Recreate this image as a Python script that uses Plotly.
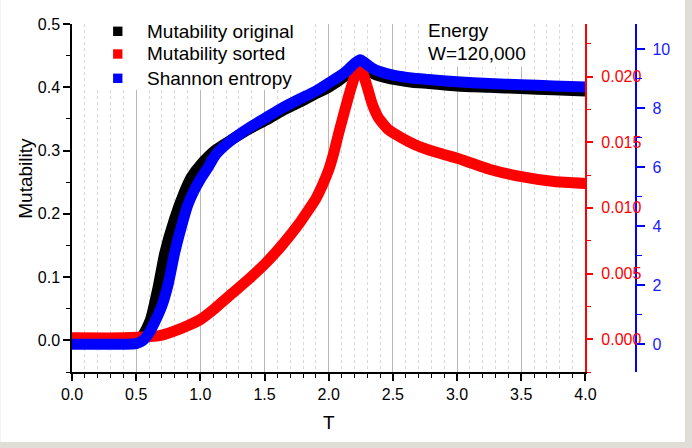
import plotly.graph_objects as go

# ---------------- data ----------------
T_orig = [0.0, 0.3, 0.5, 0.55, 0.61, 0.672, 0.723, 0.796, 0.873, 0.93, 1.0, 1.12,
          1.25, 1.38, 1.51, 1.64, 1.77, 1.9, 2.0, 2.13, 2.2, 2.245, 2.28, 2.336,
          2.41, 2.52, 2.65, 2.78, 3.0, 3.25, 3.5, 3.75, 4.0]
M_orig = [0.0, 0.0, 0.001, 0.008, 0.032, 0.085, 0.138, 0.19, 0.233, 0.258, 0.277, 0.301,
          0.318, 0.334, 0.348, 0.363, 0.376, 0.390, 0.400, 0.418, 0.432, 0.438, 0.433, 0.423,
          0.417, 0.412, 0.408, 0.406, 0.402, 0.400, 0.398, 0.396, 0.394]

T_sorted = [0.0, 0.4, 0.6, 0.7, 0.827, 0.9, 1.0, 1.12, 1.25, 1.38, 1.51, 1.64, 1.77,
            1.9, 1.95, 2.0, 2.04, 2.078, 2.155, 2.21, 2.245, 2.297, 2.336, 2.388, 2.465,
            2.57, 2.672, 2.775, 2.905, 3.008, 3.266, 3.49, 3.757, 4.0]
M_sorted = [0.0001, 0.0001, 0.00018, 0.0003, 0.00072, 0.00102, 0.0015, 0.0024, 0.0035,
            0.0046, 0.0058, 0.0072, 0.0088, 0.0107, 0.0117, 0.0129, 0.0142, 0.0157, 0.0185,
            0.0202, 0.0208, 0.0193, 0.0180, 0.01685, 0.01595, 0.01532, 0.01481, 0.01443,
            0.01405, 0.01375, 0.0129, 0.01239, 0.0120, 0.01185]

T_shannon = [0.0, 0.4, 0.5, 0.55, 0.6, 0.65, 0.7, 0.75, 0.8, 0.85, 0.9, 0.95, 1.0, 1.06,
             1.122, 1.25, 1.38, 1.51, 1.64, 1.77, 1.9, 2.0, 2.13, 2.2, 2.245, 2.28, 2.336,
             2.41, 2.52, 2.646, 2.775, 3.0, 3.25, 3.5, 3.75, 4.0]
H_shannon = [0.0, 0.0, 0.02, 0.12, 0.38, 0.8, 1.3, 2.05, 3.1, 3.95, 4.7, 5.2, 5.6, 6.0,
             6.44, 6.95, 7.34, 7.68, 8.02, 8.31, 8.59, 8.86, 9.23, 9.52, 9.65, 9.55, 9.37,
             9.23, 9.11, 9.03, 8.98, 8.9, 8.84, 8.80, 8.76, 8.72]

series_names = ["Mutability original", "Mutability sorted", "Shannon entropy"]
series_colors = ["#000000", "#ff0000", "#0000ff"]
note_lines = ["Energy", "W=120,000"]

# ---------------- layout geometry ----------------
W, H = 692, 448
ML, MR, MT, MB = 72, 20, 24, 76
PW, PH = W - ML - MR, H - MT - MB
AX_RIGHT = 588          # px where the x axis ends
BLUE_AX = 639.3         # px of the blue axis
FONT = "Liberation Sans, Arial, sans-serif"
LW = 11


def px2x(p):
    return (p - ML) / PW


def px2y(p):
    return (H - MB - p) / PH


fig = go.Figure()
fig.add_trace(go.Scatter(x=T_orig, y=M_orig, mode="lines", name=series_names[0],
                         line=dict(color=series_colors[0], width=LW, shape="spline",
                                   smoothing=0.6),
                         yaxis="y", showlegend=False))
fig.add_trace(go.Scatter(x=T_sorted, y=M_sorted, mode="lines", name=series_names[1],
                         line=dict(color=series_colors[1], width=LW, shape="spline",
                                   smoothing=0.4),
                         yaxis="y2", showlegend=False))
fig.add_trace(go.Scatter(x=T_shannon, y=H_shannon, mode="lines", name=series_names[2],
                         line=dict(color=series_colors[2], width=LW, shape="spline",
                                   smoothing=0.6),
                         yaxis="y3", showlegend=False))

tickfont = dict(family=FONT, size=16, color="black")

fig.update_layout(
    width=W, height=H,
    margin=dict(l=ML, r=MR, t=MT, b=MB, pad=0),
    paper_bgcolor="#e0ddd8",
    plot_bgcolor="white",
    font=dict(family=FONT, size=16, color="black"),
    showlegend=False,
    xaxis=dict(
        domain=[0, (AX_RIGHT - ML) / PW], range=[0, 4],
        tick0=0, dtick=0.5, tickformat=".1f",
        ticks="outside", ticklen=7, tickwidth=1.5, tickcolor="black",
        showline=True, linecolor="black", linewidth=1.5,
        showgrid=True, gridcolor="#b8b8b8", gridwidth=1,
        zeroline=False, tickfont=tickfont,
        minor=dict(dtick=0.1, ticks="outside", ticklen=4, tickwidth=1, tickcolor="black",
                   showgrid=True, gridcolor="#d8d8d8", griddash="dot", gridwidth=1),
    ),
    yaxis=dict(
        range=[-0.05, 0.5], tick0=0, dtick=0.1, tickformat=".1f",
        ticks="outside", ticklen=7, tickwidth=1.5, tickcolor="black",
        showline=True, linecolor="black", linewidth=1.5,
        showgrid=False, zeroline=False, tickfont=tickfont,
        minor=dict(dtick=0.05, ticks="outside", ticklen=4, tickwidth=1, tickcolor="black"),
    ),
    yaxis2=dict(
        overlaying="y", side="right", anchor="x",
        range=[-0.0025, 0.024], tick0=0, dtick=0.005, tickformat=".3f",
        ticks="outside", ticklen=6, tickwidth=1.5, tickcolor="#ff0000",
        showline=True, linecolor="#ff0000", linewidth=1.5,
        showgrid=False, zeroline=False, ticklabelstandoff=5,
        tickfont=dict(family=FONT, size=16, color="#ff0000"),
        minor=dict(dtick=0.0025, ticks="outside", ticklen=4, tickwidth=1, tickcolor="#ff0000"),
    ),
    yaxis3=dict(
        overlaying="y", side="right", anchor="free", position=px2x(BLUE_AX),
        range=[-0.94, 10.86], tick0=0, dtick=2,
        ticks="outside", ticklen=8, tickwidth=1.5, tickcolor="#0000ff",
        showline=True, linecolor="#0000ff", linewidth=1.5,
        showgrid=False, zeroline=False, ticklabelstandoff=4,
        tickfont=dict(family=FONT, size=16, color="#1a1aff"),
        minor=dict(dtick=1, ticks="outside", ticklen=5, tickwidth=1, tickcolor="#0000ff"),
    ),
)

shapes = []
# white page with grey strips right/bottom
shapes.append(dict(type="rect", xref="paper", yref="paper", layer="below",
                   x0=px2x(0), x1=px2x(688), y0=px2y(442), y1=px2y(0),
                   fillcolor="white", line=dict(width=0)))
# white boxes behind legend and note (hide grid lines)
shapes.append(dict(type="rect", xref="x", yref="y", layer="between",
                   x0=0.14, x1=1.845, y0=0.396, y1=0.5,
                   fillcolor="white", line=dict(width=0)))
shapes.append(dict(type="rect", xref="x", yref="y", layer="between",
                   x0=2.713, x1=3.55, y0=0.432, y1=0.5,
                   fillcolor="white", line=dict(width=0)))

legend_rows_px = [31.3, 54.0, 78.3]
sq = 4.7
annotations = []
for name, col, yc in zip(series_names, series_colors, legend_rows_px):
    shapes.append(dict(type="rect", xref="paper", yref="paper", layer="above",
                       x0=px2x(118 - sq), x1=px2x(118 + sq),
                       y0=px2y(yc + sq), y1=px2y(yc - sq),
                       fillcolor=col, line=dict(width=0)))
    annotations.append(dict(text=name, xref="paper", yref="paper",
                            x=px2x(145), y=px2y(yc), xanchor="left", yanchor="middle",
                            showarrow=False, font=dict(family=FONT, size=19, color="black")))

for line, yc in zip(note_lines, [30.0, 53.3]):
    annotations.append(dict(text=line, xref="paper", yref="paper",
                            x=px2x(428), y=px2y(yc), xanchor="left", yanchor="middle",
                            showarrow=False, font=dict(family=FONT, size=19, color="black")))

annotations.append(dict(text="Mutability", xref="paper", yref="paper",
                        x=px2x(25), y=px2y(178.5), xanchor="center", yanchor="middle",
                        textangle=-90, showarrow=False,
                        font=dict(family=FONT, size=19, color="black")))
annotations.append(dict(text="T", xref="paper", yref="paper",
                        x=px2x(330), y=px2y(422), xanchor="center", yanchor="middle",
                        showarrow=False, font=dict(family=FONT, size=19, color="black")))

fig.update_layout(shapes=shapes, annotations=annotations)
fig.write_html("out.html")
